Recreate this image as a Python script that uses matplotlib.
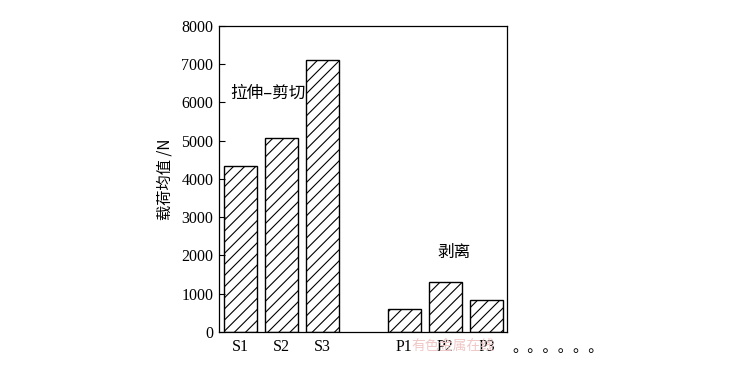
import matplotlib.pyplot as plt

# bar labels and mean load values (N)
categories = ["S1", "S2", "S3", "P1", "P2", "P3"]
positions = [0, 1, 2, 4, 5, 6]
loads = [4350, 5080, 7110, 600, 1310, 840]
yticks = [0, 1000, 2000, 3000, 4000, 5000, 6000, 7000, 8000]

plt.rcParams["hatch.linewidth"] = 0.8
cjk = ["Noto Sans CJK SC", "DejaVu Sans"]
serif = ["Liberation Serif", "DejaVu Serif"]

fig = plt.figure(figsize=(7.3, 3.91), dpi=100)
ax = fig.add_axes([0.3, 0.151, 0.3945, 0.7825])

ax.bar(positions, loads, width=0.8, color="white", edgecolor="black",
       linewidth=1.0, hatch="///")

ax.set_xlim(-0.52, 6.5)
ax.set_ylim(0, 8000)
ax.set_yticks(yticks)
ax.set_yticklabels([str(v) for v in yticks], family=serif, fontsize=11.5)
ax.set_xticks(positions)
ax.set_xticklabels(categories, family=serif, fontsize=11.5)
ax.tick_params(axis="y", direction="in", length=4, width=0.8, pad=4)
ax.tick_params(axis="x", length=0, pad=5)
for s in ax.spines.values():
    s.set_linewidth(0.9)

ax.set_ylabel("载荷均值 /N", family=cjk, fontsize=11, weight="medium", labelpad=6)

ax.text(0.68, 6250, "拉伸–剪切", family=cjk, fontsize=12, weight="medium",
        ha="center", va="center")
ax.text(5.2, 2070, "剥离", family=cjk, fontsize=12, weight="medium",
        ha="center", va="center")

# faint watermark and trailing dots from the source image
fig.text(0.62, 0.115, "有色金属在线", family=cjk, fontsize=10, color="#f0c8c8",
         ha="center", va="center", zorder=0)
fig.text(0.765, 0.112, "。。。。。。", family=cjk, fontsize=11, color="black",
         ha="center", va="center")

fig.savefig("out.png", dpi=100)
